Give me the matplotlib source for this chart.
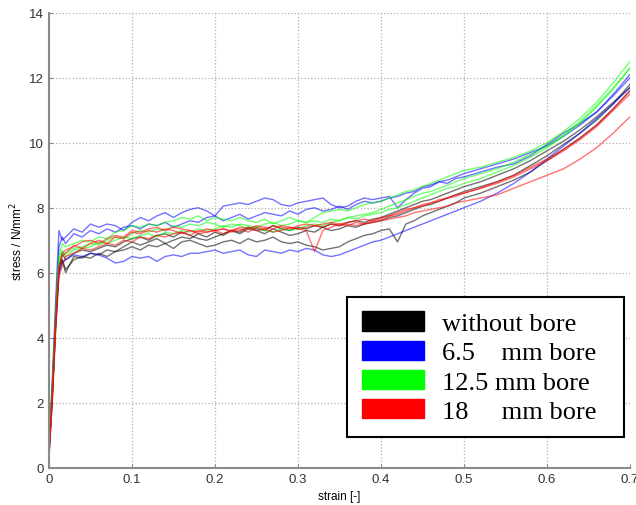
import numpy as np
import matplotlib
matplotlib.use("Agg")
import matplotlib.pyplot as plt
from matplotlib.patches import Patch

# strain grid shared by all specimens
strain = [0.0, 0.004, 0.008, 0.012, 0.016,
          0.02, 0.03, 0.04, 0.05, 0.06, 0.07, 0.08, 0.09, 0.10, 0.11,
          0.12, 0.13, 0.14, 0.15, 0.16, 0.17, 0.18, 0.19, 0.20, 0.21,
          0.22, 0.23, 0.24, 0.25, 0.26, 0.27, 0.28, 0.29, 0.30, 0.31,
          0.32, 0.33, 0.34, 0.35, 0.36, 0.37, 0.38, 0.39, 0.40, 0.41,
          0.42, 0.43, 0.44, 0.45, 0.46, 0.47, 0.48, 0.49, 0.50,
          0.52, 0.54, 0.56, 0.58, 0.60, 0.62, 0.64, 0.66, 0.68, 0.70]

# without bore
black_1 = [0.5, 2.3, 4.5, 6.2, 6.4,
           6.0, 6.5, 6.45, 6.6, 6.55, 6.7, 6.65, 6.8, 6.95, 6.85,
           6.95, 7.05, 6.9, 7.0, 7.1, 7.05, 7.2, 7.1, 7.25, 7.15,
           7.3, 7.2, 7.35, 7.3, 7.2, 7.35, 7.25, 7.15, 7.2, 7.3,
           7.25, 7.4, 7.3, 7.35, 7.45, 7.4, 7.5, 7.55, 7.6, 7.7,
           7.75, 7.85, 7.95, 8.05, 8.1, 8.2, 8.3, 8.4, 8.5,
           8.65, 8.8, 9.0, 9.3, 9.6, 9.95, 10.3, 10.7, 11.2, 11.8]
black_2 = [0.4, 2.1, 4.3, 6.0, 6.4,
           6.1, 6.4, 6.5, 6.45, 6.6, 6.5, 6.65, 6.7, 6.8, 6.7,
           6.85, 6.8, 6.9, 6.75, 6.95, 7.0, 6.9, 6.8, 6.85, 6.95,
           7.0, 6.9, 7.05, 6.95, 7.0, 7.1, 6.95, 6.9, 6.95, 6.85,
           6.8, 6.7, 6.75, 6.8, 6.95, 7.05, 7.15, 7.2, 7.3, 7.35,
           6.95, 7.5, 7.6, 7.75, 7.85, 7.95, 8.05, 8.15, 8.3,
           8.45, 8.65, 8.85, 9.1, 9.45, 9.8, 10.15, 10.55, 11.05, 11.6]
black_3 = [0.5, 2.3, 4.5, 6.2, 6.6,
           6.4, 6.6, 6.7, 6.65, 6.75, 6.85, 6.8, 6.95, 7.05, 7.1,
           7.0, 7.15, 7.2, 7.1, 7.25, 7.15, 7.05, 7.0, 7.1, 7.2,
           7.3, 7.25, 7.4, 7.35, 7.3, 7.45, 7.35, 7.3, 7.4, 7.35,
           7.45, 7.4, 7.5, 7.45, 7.55, 7.6, 7.55, 7.65, 7.7, 7.8,
           7.9, 8.0, 8.1, 8.2, 8.25, 8.35, 8.45, 8.55, 8.65,
           8.8, 9.0, 9.2, 9.45, 9.75, 10.05, 10.4, 10.8, 11.25, 11.7]

# 6.5 mm bore
blue_1 = [0.6, 2.7, 5.1, 7.3, 7.0,
          7.1, 7.35, 7.25, 7.5, 7.4, 7.5, 7.45, 7.3, 7.55, 7.7,
          7.6, 7.75, 7.85, 7.7, 7.85, 7.95, 8.0, 7.9, 7.75, 8.05,
          8.1, 8.15, 8.1, 8.2, 8.3, 8.25, 8.1, 8.05, 8.15, 8.2,
          8.25, 8.3, 8.1, 8.0, 8.05, 8.2, 8.3, 8.25, 8.3, 8.35,
          8.0, 8.25, 8.45, 8.6, 8.65, 8.8, 8.75, 8.9, 8.95,
          9.1, 9.25, 9.35, 9.6, 9.95, 10.3, 10.6, 10.95, 11.45, 12.0]
blue_2 = [0.5, 2.5, 4.8, 6.8, 7.1,
          6.9, 7.2, 7.1, 7.3, 7.2, 7.35, 7.25, 7.4, 7.45, 7.35,
          7.5, 7.45, 7.55, 7.4, 7.5, 7.6, 7.55, 7.7, 7.75, 7.6,
          7.7, 7.8, 7.65, 7.75, 7.85, 7.8, 7.75, 7.9, 7.8, 7.95,
          8.0, 7.9, 7.95, 8.05, 7.95, 8.1, 8.2, 8.15, 8.2, 8.3,
          8.35, 8.45, 8.5, 8.65, 8.7, 8.8, 8.85, 8.95, 9.05,
          9.2, 9.35, 9.5, 9.7, 9.9, 10.2, 10.55, 10.95, 11.5, 12.1]
blue_3 = [0.4, 2.2, 4.3, 6.0, 6.3,
          6.4, 6.55, 6.5, 6.6, 6.55, 6.45, 6.3, 6.35, 6.5, 6.45,
          6.5, 6.35, 6.5, 6.55, 6.5, 6.6, 6.6, 6.65, 6.7, 6.6,
          6.65, 6.7, 6.55, 6.5, 6.7, 6.65, 6.6, 6.7, 6.65, 6.75,
          6.7, 6.55, 6.5, 6.55, 6.65, 6.75, 6.85, 6.95, 7.0, 7.1,
          7.2, 7.3, 7.4, 7.5, 7.6, 7.7, 7.8, 7.9, 8.0,
          8.2, 8.45, 8.75, 9.1, 9.5, 9.9, 10.3, 10.75, 11.2, 11.7]

# 12.5 mm bore
green_1 = [0.5, 2.4, 4.6, 6.5, 6.9,
           6.8, 6.9, 7.0, 6.95, 7.1, 7.05, 7.25, 7.3, 7.45, 7.4,
           7.5, 7.45, 7.55, 7.6, 7.7, 7.65, 7.75, 7.6, 7.7, 7.65,
           7.6, 7.7, 7.6, 7.55, 7.65, 7.5, 7.6, 7.7, 7.6, 7.55,
           7.7, 7.85, 7.9, 7.95, 7.9, 8.0, 8.1, 8.15, 8.2, 8.3,
           8.4, 8.5, 8.55, 8.65, 8.75, 8.85, 8.95, 9.05, 9.15,
           9.25, 9.4, 9.55, 9.75, 10.0, 10.35, 10.75, 11.25, 11.85, 12.5]
green_2 = [0.4, 2.3, 4.5, 6.3, 6.6,
           6.6, 6.75, 6.8, 6.9, 6.85, 7.0, 7.1, 7.05, 7.2, 7.3,
           7.25, 7.35, 7.3, 7.45, 7.4, 7.5, 7.45, 7.55, 7.5, 7.4,
           7.5, 7.45, 7.35, 7.4, 7.3, 7.25, 7.35, 7.3, 7.35, 7.45,
           7.5, 7.45, 7.55, 7.6, 7.7, 7.75, 7.8, 7.85, 7.95, 8.05,
           8.15, 8.25, 8.35, 8.45, 8.5, 8.6, 8.7, 8.8, 8.9,
           9.05, 9.2, 9.4, 9.65, 9.9, 10.25, 10.65, 11.15, 11.7, 12.3]
green_3 = [0.6, 2.5, 4.7, 6.4, 6.7,
           6.5, 6.7, 6.75, 6.8, 6.95, 6.9, 7.0, 7.1, 7.05, 7.15,
           7.2, 7.1, 7.25, 7.2, 7.3, 7.25, 7.35, 7.3, 7.35, 7.45,
           7.4, 7.5, 7.45, 7.4, 7.5, 7.55, 7.45, 7.5, 7.6, 7.55,
           7.6, 7.55, 7.65, 7.6, 7.7, 7.65, 7.75, 7.8, 7.85, 7.95,
           8.0, 8.1, 8.2, 8.3, 8.4, 8.5, 8.6, 8.65, 8.75,
           8.9, 9.1, 9.3, 9.55, 9.85, 10.2, 10.6, 11.1, 11.65, 12.3]

# 18 mm bore
red_1 = [0.5, 2.3, 4.5, 6.2, 6.5,
         6.6, 6.85, 6.75, 6.9, 7.0, 6.9, 7.1, 7.05, 7.25, 7.2,
         7.3, 7.25, 7.35, 7.3, 7.2, 7.3, 7.2, 7.25, 7.3, 7.35,
         7.25, 7.3, 7.4, 7.3, 7.35, 7.25, 7.3, 7.4, 7.35, 7.3,
         6.65, 7.3, 7.4, 7.5, 7.45, 7.55, 7.5, 7.6, 7.65, 7.75,
         7.85, 7.95, 8.0, 8.1, 8.15, 8.25, 8.3, 8.4, 8.45,
         8.6, 8.8, 9.0, 9.25, 9.5, 9.8, 10.15, 10.55, 11.05, 11.6]
red_2 = [0.3, 2.0, 4.2, 5.9, 6.2,
         6.5, 6.6, 6.75, 6.7, 6.8, 6.9, 6.85, 7.0, 6.95, 7.1,
         7.05, 7.15, 7.1, 7.2, 7.25, 7.15, 7.3, 7.25, 7.3, 7.35,
         7.3, 7.4, 7.35, 7.45, 7.4, 7.35, 7.45, 7.4, 7.35, 7.4,
         7.45, 7.4, 7.5, 7.45, 7.5, 7.45, 7.5, 7.55, 7.6, 7.65,
         7.7, 7.75, 7.85, 7.9, 7.95, 8.0, 8.05, 8.15, 8.2,
         8.3, 8.4, 8.6, 8.8, 9.0, 9.2, 9.5, 9.85, 10.3, 10.8]
red_3 = [0.4, 2.2, 4.4, 6.1, 6.6,
         6.7, 6.8, 6.95, 7.0, 6.9, 7.05, 7.15, 7.1, 7.3, 7.25,
         7.35, 7.4, 7.3, 7.4, 7.35, 7.3, 7.25, 7.35, 7.3, 7.2,
         7.3, 7.35, 7.25, 7.4, 7.35, 7.45, 7.4, 7.35, 7.45, 7.5,
         7.45, 7.5, 7.55, 7.5, 7.55, 7.6, 7.65, 7.6, 7.7, 7.75,
         7.8, 7.9, 8.0, 8.05, 8.15, 8.2, 8.3, 8.35, 8.45,
         8.6, 8.75, 8.95, 9.2, 9.45, 9.75, 10.1, 10.5, 11.0, 11.5]

groups = [
    ("without bore", "#000000", [black_1, black_2, black_3]),
    ("6.5    mm bore  ", "#0000ff", [blue_1, blue_2, blue_3]),
    ("12.5 mm bore", "#00ff00", [green_1, green_2, green_3]),
    ("18     mm bore", "#ff0000", [red_1, red_2, red_3]),
]

fig = plt.figure(figsize=(6.36, 5.06), dpi=100)
ax = fig.add_axes([0.077, 0.0737, 0.9135, 0.899])

for label, color, curves in groups:
    for s in curves:
        ax.plot(strain, s, color=color, lw=1.0, alpha=0.55)

ax.set_xlim(0, 0.7)
ax.set_ylim(0, 14)
ax.set_xticks([0, 0.1, 0.2, 0.3, 0.4, 0.5, 0.6, 0.7])
ax.set_xticklabels(["0", "0.1", "0.2", "0.3", "0.4", "0.5", "0.6", "0.7"])
ax.set_yticks([0, 2, 4, 6, 8, 10, 12, 14])

ax.grid(True, ls=":", color="#b0b0b0", lw=0.9)
ax.spines["top"].set_visible(False)
ax.spines["right"].set_visible(False)
for sp in ("left", "bottom"):
    ax.spines[sp].set_color("#8a8a8a")
    ax.spines[sp].set_linewidth(1.5)
ax.tick_params(direction="in", length=3, color="#8a8a8a", labelsize=9.5,
               labelcolor="#333333")
for t in ax.get_xticklabels() + ax.get_yticklabels():
    t.set_family("Liberation Sans")

ax.set_xlabel("strain [-]", fontsize=8.5, family="Liberation Sans", labelpad=4)
ax.set_ylabel("stress / N/mm$^2$", fontsize=8.5, family="Liberation Sans", labelpad=3)

handles = [Patch(facecolor=c, edgecolor=c) for _, c, _ in groups]
leg = ax.legend(handles, [g[0] for g in groups], loc="lower left",
                bbox_to_anchor=(0.513, 0.067), borderaxespad=0,
                prop={"family": "Liberation Serif", "size": 19},
                handlelength=2.35, handleheight=0.75, handletextpad=0.7,
                labelspacing=0.2, borderpad=0.55, fancybox=False,
                framealpha=1, edgecolor="black")
leg.get_frame().set_linewidth(1.5)

fig.savefig("out.png", dpi=100)
